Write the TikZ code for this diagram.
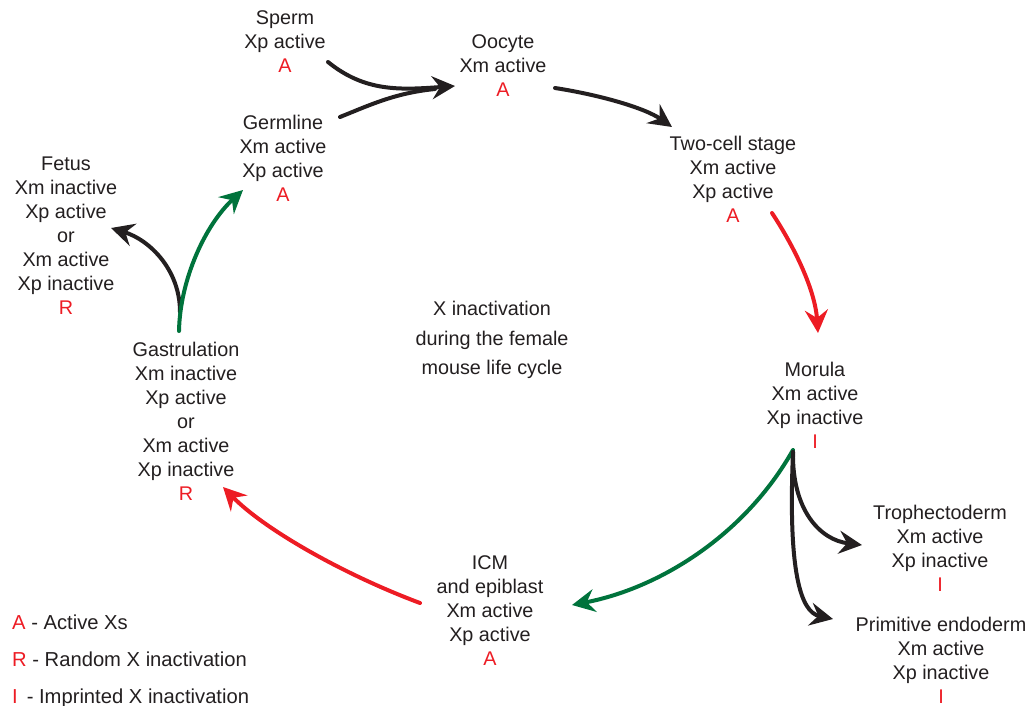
\documentclass[tikz,border=0pt]{standalone}
\usepackage{fontspec}
\setmainfont{Liberation Sans}
\usetikzlibrary{arrows.meta,calc}
\definecolor{txt}{HTML}{231F20}
\definecolor{redc}{HTML}{ED1C24}
\definecolor{greenc}{HTML}{00733C}
\tikzset{
  lbl/.style={align=center,inner sep=0pt,text=txt,font=\fontsize{19.8}{24}\selectfont},
  ctr/.style={align=center,inner sep=0pt,text=txt,font=\fontsize{19.8}{29.5}\selectfont},
  leg/.style={align=left,inner sep=0pt,text=txt,anchor=west,font=\fontsize{20.2}{37}\selectfont},
  arr/.style={line width=4pt,line cap=round,-{Stealth[length=23pt,width=23pt,inset=8pt]}},
  blk/.style={arr,draw=txt},
  redarr/.style={arr,draw=redc},
  grnarr/.style={arr,draw=greenc},
}
\newcommand{\rA}[1]{\textcolor{redc}{#1}}
\begin{document}
\begin{tikzpicture}[x=1pt,y=-1pt]
\useasboundingbox (0,0) rectangle (1031,706);
\node[lbl] (sperm) at (285,42) {Sperm\\Xp active\\\rA{A}};
\node[lbl] (oocyte) at (503,66) {Oocyte\\Xm active\\\rA{A}};
\node[lbl] (twocell) at (733,179) {Two-cell stage\\Xm active\\Xp active\\\rA{A}};
\node[lbl] (morula) at (815,405) {Morula\\Xm active\\Xp inactive\\\rA{I}};
\node[lbl] (tropho) at (940,548) {Trophectoderm\\Xm active\\Xp inactive\\\rA{I}};
\node[lbl] (prim) at (941,660) {Primitive endoderm\\Xm active\\Xp inactive\\\rA{I}};
\node[lbl] (icm) at (490,611) {ICM\\and epiblast\\Xm active\\Xp active\\\rA{A}};
\node[lbl] (gast) at (186,421) {Gastrulation\\Xm inactive\\Xp active\\or\\Xm active\\Xp inactive\\\rA{R}};
\node[lbl] (fetus) at (66,236) {Fetus\\Xm inactive\\Xp active\\or\\Xm active\\Xp inactive\\\rA{R}};
\node[lbl] (germ) at (283,158) {Germline\\Xm active\\Xp active\\\rA{A}};
\node[ctr] (title) at (492,340) {X inactivation\\during the female\\mouse life cycle};
\node[leg] (legend) at (12,661) {\rA{A} - Active Xs\\\rA{R} - Random X inactivation\\\rA{I}\, - Imprinted X inactivation};

% germline merge
\draw[line width=4pt,line cap=round,draw=txt] ($(germ)+(57,-41)$) .. controls (370,105) and (395,93) .. ($(oocyte)+(-68,23)$);
\draw[blk] ($(sperm)+(43,20)$) .. controls (365,92) and (400,90) .. ($(oocyte)+(-48,20)$);
\draw[blk] ($(oocyte)+(52,22)$) .. controls (600,95) and (645,108) .. ($(twocell)+(-61,-52)$);
\draw[redarr] ($(twocell)+(39,34)$) .. controls (795,248) and (815,290) .. ($(morula)+(3,-72)$);
\draw[grnarr] ($(morula)+(-22,45)$) .. controls (745,535) and (660,588) .. ($(icm)+(82,-6)$);
\draw[blk] ($(morula)+(-22,47)$) .. controls (792,510) and (820,540) .. ($(tropho)+(-78,-3)$);
\draw[blk] ($(morula)+(-22,47)$) .. controls (788,570) and (800,612) .. ($(prim)+(-108,-41)$);
\draw[redarr] ($(icm)+(-70,-8)$) .. controls (345,575) and (265,530) .. ($(gast)+(37,66)$);
\draw[blk] ($(gast)+(-6,-109)$) .. controls (180,270) and (150,240) .. ($(fetus)+(45,-8)$);
\draw[grnarr] ($(gast)+(-7,-90)$) .. controls (180,280) and (205,225) .. ($(germ)+(-40,32)$);
\end{tikzpicture}
\end{document}
